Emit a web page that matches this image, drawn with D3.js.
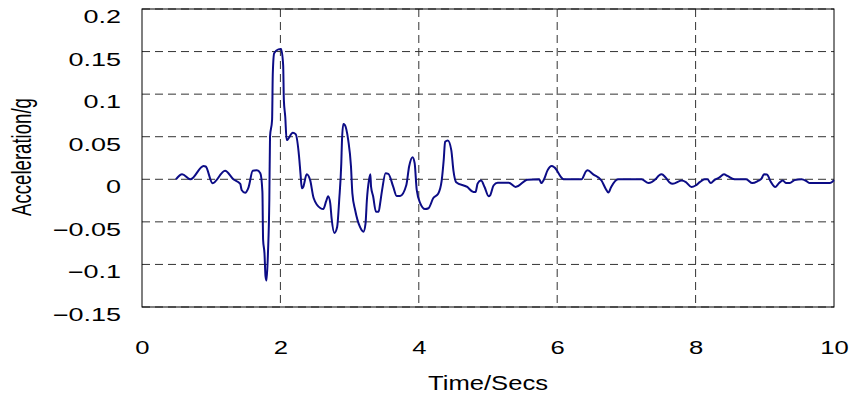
<!DOCTYPE html>
<html>
<head>
<meta charset="utf-8">
<script src="https://cdn.jsdelivr.net/npm/d3@7.9.0/dist/d3.min.js"></script>
<style>
  body { margin: 0; background: #fff; }
  svg { display: block; font-family: "Liberation Sans", Arial, sans-serif; }
</style>
</head>
<body>
<svg id="chart" width="849" height="398"></svg>
<script>
// time in seconds
const time = [
  0.49, 0.58, 0.70, 0.89, 0.92, 1.02, 1.20, 1.32, 1.42, 1.44, 1.49, 1.54, 1.60, 1.66, 1.71,
  1.74, 1.75, 1.77, 1.785, 1.80, 1.82, 1.84, 1.85, 1.88, 1.89, 1.91, 1.97, 2.01, 2.04, 2.05,
  2.07, 2.09, 2.18, 2.22, 2.27, 2.29, 2.31, 2.33, 2.38, 2.43, 2.48, 2.58, 2.62, 2.66, 2.69,
  2.72, 2.74, 2.78, 2.82, 2.85, 2.88, 2.89, 2.91, 2.93, 2.98, 3.02, 3.04, 3.08, 3.15, 3.20,
  3.23, 3.25, 3.28, 3.30, 3.31, 3.34, 3.38, 3.42, 3.44, 3.47, 3.52, 3.56, 3.63, 3.68, 3.73,
  3.82, 3.86, 3.91, 3.94, 3.97, 4.02, 4.09, 4.14, 4.21, 4.28, 4.33, 4.36, 4.38, 4.42, 4.47,
  4.50, 4.54, 4.70, 4.79, 4.82, 4.85, 4.90, 4.95, 5.01, 5.03, 5.08, 5.14, 5.30, 5.40, 5.57,
  5.74, 5.77, 5.81, 5.86, 5.92, 5.96, 6.08, 6.10, 6.35, 6.42, 6.44, 6.52, 6.64, 6.70, 6.74,
  6.78, 6.88, 6.93, 7.22, 7.32, 7.42, 7.47, 7.51, 7.56, 7.62, 7.67, 7.80, 7.86, 7.94, 8.00,
  8.06, 8.13, 8.17, 8.22, 8.27, 8.34, 8.41, 8.46, 8.56, 8.73, 8.82, 8.90, 8.95, 8.99, 9.03,
  9.09, 9.15, 9.20, 9.26, 9.31, 9.36, 9.43, 9.53, 9.60, 9.65, 9.94, 10.0
];
// acceleration in g
const accel = [
  0.000, 0.006, 0.000, 0.0156, 0.015, -0.0047, 0.010, 0.000, -0.0055, -0.0125, -0.0157, -0.0094, 0.010, 0.0105, 0.007,
  -0.0145, -0.071, -0.087, -0.114, -0.119, -0.087, -0.024, 0.050, 0.070, 0.124, 0.148, 0.1526, 0.153, 0.134, 0.093,
  0.0735, 0.046, 0.0547, 0.053, 0.0265, 0.007, -0.0106, -0.009, 0.006, -0.001, -0.022, -0.034, -0.035, -0.026, -0.020,
  -0.028, -0.046, -0.063, -0.056, -0.024, 0.019, 0.046, 0.065, 0.064, 0.046, 0.015, -0.0165, -0.036, -0.056, -0.0615,
  -0.052, -0.024, -0.001, 0.006, -0.0087, -0.020, -0.038, -0.038, -0.029, -0.0125, 0.007, 0.0064, -0.0087, -0.0196, -0.0196,
  -0.0067, 0.015, 0.026, 0.019, -0.0125, -0.028, -0.035, -0.034, -0.022, -0.017, -0.002, 0.0227, 0.044, 0.0455, 0.034,
  0.0105, -0.0034, -0.009, -0.015, -0.015, -0.005, -0.0015, -0.009, -0.020, -0.019, -0.0073, -0.004, -0.004, -0.009, -0.0006,
  0.000, -0.0045, 0.000, 0.0105, 0.0156, 0.014, 0.0006, 0.000, 0.000, 0.0097, 0.0105, 0.0058, -0.0015, -0.011, -0.0156,
  -0.009, 0.000, 0.000, 0.000, -0.0045, 0.000, 0.0045, 0.0058, 0.0027, -0.0034, -0.0053, -0.0015, -0.0034, -0.009, -0.0073,
  -0.0034, 0.000, 0.000, -0.0045, -0.001, 0.002, 0.0058, 0.004, 0.000, 0.000, -0.0045, -0.002, 0.0006, 0.0058, 0.0055,
  -0.0034, -0.009, -0.005, -0.0015, -0.0045, -0.0045, -0.001, 0.000, -0.002, -0.0045, -0.0045, -0.001
];
const xTicks = [0, 2, 4, 6, 8, 10];
const yTicks = [-0.15, -0.1, -0.05, 0, 0.05, 0.1, 0.15, 0.2];

const margin = { left: 142, top: 9, right: 15, bottom: 91 };
const width = 849 - margin.left - margin.right;   // 692
const height = 398 - margin.top - margin.bottom;  // 298

const svg = d3.select('#chart');
const g = svg.append('g').attr('transform', `translate(${margin.left},${margin.top})`);

const x = d3.scaleLinear().domain([0, 10]).range([0, width]);
const y = d3.scaleLinear().domain([-0.15, 0.2]).range([height, 0]);

// Grid
g.append('g')
  .selectAll('line')
  .data(yTicks)
  .join('line')
  .attr('x1', 0).attr('x2', width)
  .attr('y1', d => y(d)).attr('y2', d => y(d))
  .attr('stroke', '#333')
  .attr('stroke-dasharray', '8,5');

g.append('g')
  .selectAll('line')
  .data(xTicks.slice(1, -1))
  .join('line')
  .attr('y1', 0).attr('y2', height)
  .attr('x1', d => x(d)).attr('x2', d => x(d))
  .attr('stroke', '#333')
  .attr('stroke-dasharray', '8,5');

// Frame
g.append('rect')
  .attr('width', width).attr('height', height)
  .attr('fill', 'none')
  .attr('stroke', '#000')
  .attr('stroke-width', 1);

// Axes (labels only)
const yAxis = g.append('g')
  .call(d3.axisLeft(y).tickValues(yTicks).tickSize(0).tickFormat(d3.format('')));
yAxis.select('.domain').remove();
yAxis.selectAll('text')
  .attr('x', -14)
  .attr('dy', '0.75em')
  .attr('transform', 'scale(1.5,1)')
  .attr('font-size', 18)
  .attr('font-family', '"Liberation Sans", Arial, sans-serif')
  .attr('fill', '#000');

const xAxis = g.append('g')
  .attr('transform', `translate(0,${height})`)
  .call(d3.axisBottom(x).tickValues(xTicks).tickSize(0).tickFormat(d3.format('d')));
xAxis.select('.domain').remove();
xAxis.selectAll('.tick').each(function () {
  const tx = d3.select(this);
  const px = +tx.attr('transform').match(/translate\(([-\d.]+)/)[1];
  tx.attr('transform', `translate(${px},0) scale(1.35,1)`);
});
xAxis.selectAll('text')
  .attr('y', 47)
  .attr('dy', 0)
  .attr('font-size', 19)
  .attr('font-family', '"Liberation Sans", Arial, sans-serif')
  .attr('fill', '#000');

// Titles
svg.append('text')
  .attr('x', margin.left + width / 2)
  .attr('y', 390)
  .attr('text-anchor', 'middle')
  .attr('font-size', 20)
  .attr('textLength', 120)
  .attr('lengthAdjust', 'spacingAndGlyphs')
  .text('Time/Secs');

svg.append('text')
  .attr('transform', 'translate(31,157) scale(1.5,1) rotate(-90)')
  .attr('text-anchor', 'middle')
  .attr('font-size', 18.6)
  .text('Acceleration/g');

// Line
const line = d3.line()
  .x((d, i) => x(time[i]))
  .y(d => y(d))
  .curve(d3.curveMonotoneX);

g.append('path')
  .datum(accel)
  .attr('d', line)
  .attr('fill', 'none')
  .attr('stroke', '#0c0c86')
  .attr('stroke-width', 2)
  .attr('stroke-linejoin', 'round');
</script>
</body>
</html>
